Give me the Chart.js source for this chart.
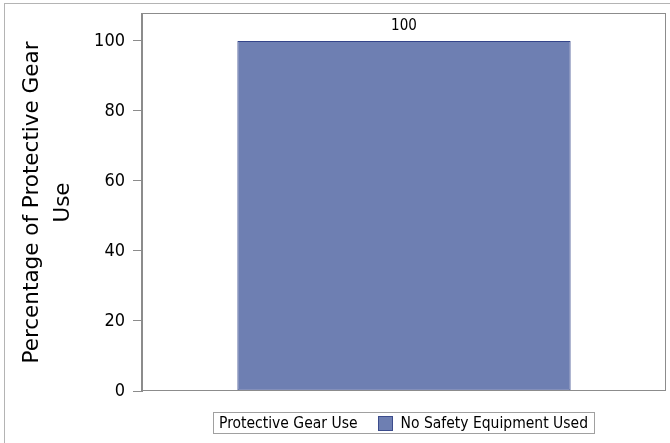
<!DOCTYPE html>
<html>
<head>
<meta charset="utf-8">
<script src="https://cdn.jsdelivr.net/npm/chart.js@4"></script>
<style>
  body { margin: 0; background: #fff; }
  #wrap { position: relative; width: 670px; height: 443px; }
  #legend {
    position: absolute; left: 213px; top: 412px; width: 380px; height: 20px;
    border: 1px solid #a0a0a0; font: 15.5px "DejaVu Sans Condensed", "DejaVu Sans", sans-serif;
    display: flex; align-items: center; color: #000; white-space: nowrap;
  }
  #legend .sw { display: inline-block; width: 13px; height: 13px; border: 1px solid #3c4c8c; margin: 0 8px 0 20px; }
</style>
</head>
<body>
<div id="wrap">
  <canvas id="chart" width="670" height="443"></canvas>
  <div id="legend"></div>
</div>
<script>
const categories = ["No Safety Equipment Used"];
const values = [100];
const legendTitle = "Protective Gear Use";
const yTicks = [0, 20, 40, 60, 80, 100];
const barColor = "#6e7fb2";
const barEdge = "#34458a";

const legend = document.getElementById("legend");
legend.innerHTML = '<span style="margin-left:5px">' + legendTitle + '</span>' +
    categories.map(c => '<span class="sw" style="background:' + barColor + '"></span><span>' + c + '</span>').join("");

const framePlugin = {
    id: "frame",
    beforeDraw(chart) {
        const ctx = chart.ctx;
        ctx.save();
        ctx.strokeStyle = "#b4b4b4";
        ctx.lineWidth = 1;
        ctx.strokeRect(4.5, 3.5, 670, 445);
        ctx.restore();
    },
    afterDatasetsDraw(chart) {
        const ctx = chart.ctx;
        const a = chart.chartArea;
        ctx.save();
        ctx.strokeStyle = "#8c8c8c";
        ctx.lineWidth = 1;
        ctx.strokeRect(Math.round(a.left) - 0.5, Math.round(a.top) - 0.5, Math.round(a.right - a.left), Math.round(a.bottom - a.top));
        // value labels
        ctx.fillStyle = "#000";
        ctx.font = '15px "DejaVu Sans Condensed", "DejaVu Sans", sans-serif';
        ctx.textAlign = "center";
        ctx.textBaseline = "bottom";
        chart.getDatasetMeta(0).data.forEach((bar, i) => {
            ctx.fillText(String(values[i]), bar.x, bar.y - 7);
        });
        ctx.restore();
    }
};

new Chart(document.getElementById("chart"), {
    type: "bar",
    data: {
        labels: categories,
        datasets: [{
            label: categories[0],
            data: values,
            backgroundColor: barColor,
            borderColor: barEdge,
            borderWidth: 1,
            borderSkipped: false,
            categoryPercentage: 1,
            barPercentage: 0.636
        }]
    },
    options: {
        responsive: false,
        animation: false,
        layout: { padding: { left: 0, top: 14, right: 4, bottom: 52 } },
        plugins: {
            legend: { display: false },
            tooltip: { enabled: false }
        },
        scales: {
            x: { display: false },
            y: {
                min: 0,
                max: 107.7,
                afterBuildTicks: axis => { axis.ticks = yTicks.map(v => ({ value: v })); },
                afterFit: axis => { axis.width = 142; axis.paddingTop = 0; axis.paddingBottom = 0; },
                border: { display: true, color: "#8c8c8c" },
                grid: { drawOnChartArea: false, drawTicks: true, tickLength: 9, color: "#8c8c8c" },
                ticks: {
                    color: "#000",
                    padding: 8,
                    font: { family: "DejaVu Sans Condensed, DejaVu Sans", size: 18 }
                },
                title: {
                    display: true,
                    text: ["Percentage of Protective Gear", "Use"],
                    color: "#000",
                    padding: { top: 17, bottom: 0 },
                    font: { family: "DejaVu Sans", size: 21.5, weight: "normal", lineHeight: 1.45 }
                }
            }
        }
    },
    plugins: [framePlugin]
});
</script>
</body>
</html>
